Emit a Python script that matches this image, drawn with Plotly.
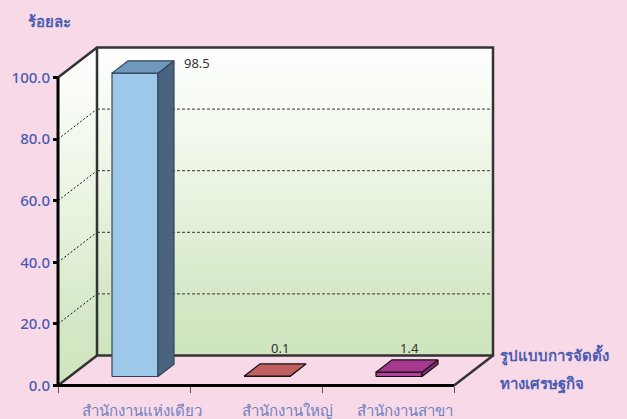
import plotly.graph_objects as go

categories = ["สำนักงานแห่งเดียว", "สำนักงานใหญ่", "สำนักงานสาขา"]
values = [98.5, 0.1, 1.4]
value_text = ["98.5", "0.1", "1.4"]
y_ticks = [0, 20, 40, 60, 80, 100]
y_tick_text = ["0.0", "20.0", "40.0", "60.0", "80.0", "100.0"]
x_ticks = [0, 1, 2, 3]
y_title = "ร้อยละ"
x_title = ["รูปแบบการจัดตั้ง", "ทางเศรษฐกิจ"]

W, H = 627, 419
X0, X1, Y0, Y1 = 58, 454, 385.5, 77.5   # pixel box of the front plane
PX = (X1 - X0) / 3
PY = (Y0 - Y1) / 100
DX, DY = 39 / PX, 30 / PY           # wall depth in data units
BW = 46 / PX                        # bar width
BDX, BDY = 16 / PX, 12.3 / PY       # bar depth
OFFX, OFFY = 11 / PX, 9 / PY        # bar placement on the floor

BG = "#F8D9E8"
BLUE = "#4A5DB0"
EDGE = "#333333"
FONT = "Noto Sans, DejaVu Sans, sans-serif"
wall_scale = [[0, "#CEE5BD"], [0.18, "#D4E7C5"], [0.5, "#E8F3DF"], [1, "#FFFFFF"]]
bar_colors = [
    ("#9DC8EA", "#7098BC", "#4A6480", "#33445A"),
    ("#C06060", "#C06060", "#8A4040", "#111111"),
    ("#B0409A", "#A5378F", "#8A2C78", "#111111"),
]

fig = go.Figure()


def poly(xs, ys, color=None, line="rgba(0,0,0,0)", lw=0, gradient=False):
    kw = {}
    if gradient:
        kw["fillgradient"] = dict(type="vertical", colorscale=wall_scale)
    else:
        kw["fillcolor"] = color
    fig.add_trace(go.Scatter(x=xs, y=ys, mode="lines", fill="toself",
                             line=dict(color=line, width=lw),
                             hoverinfo="skip", showlegend=False, **kw))


def seg(xs, ys, color=EDGE, lw=3, dash="solid"):
    fig.add_trace(go.Scatter(x=xs, y=ys, mode="lines",
                             line=dict(color=color, width=lw, dash=dash),
                             hoverinfo="skip", showlegend=False))


# walls
poly([DX, 3 + DX, 3 + DX, DX, DX], [DY, DY, 100 + DY, 100 + DY, DY], gradient=True)
poly([0, DX, DX, 0, 0], [0, DY, 100 + DY, 100, 0], gradient=True)

# gridlines
for t in y_ticks[1:-1]:
    seg([DX, 3 + DX], [t + DY, t + DY], "#333333", 1, "3px,2px")
    seg([0, DX], [t, t + DY], "#111111", 1, "2px,2px")

# wall edges
seg([0, DX, 3 + DX, 3 + DX, DX, DX], [100, 100 + DY, 100 + DY, DY, DY, 100 + DY], lw=2.5)
seg([0, DX], [0, DY], lw=2.5)
seg([3, 3 + DX], [0, DY], lw=2.5)

# bars
for i, v in enumerate(values):
    front, top, side, edge = bar_colors[i]
    xl = i + 0.5 + OFFX - BW / 2
    xr = xl + BW
    yb = OFFY
    yt = OFFY + v
    poly([xl, xr, xr, xl, xl], [yb, yb, yt, yt, yb], front, edge, 1.2)
    poly([xr, xr + BDX, xr + BDX, xr, xr], [yb, yb + BDY, yt + BDY, yt, yb], side, edge, 1.2)
    poly([xl, xr, xr + BDX, xl + BDX, xl], [yt, yt, yt + BDY, yt + BDY, yt], top, edge, 1.2)

# front axis lines
seg([0, 0], [0, 100], "#000000", 3)
seg([0, 3], [0, 0], "#000000", 3)

annotations = []
label_shift = [(62, 10), (13, 28), (10, 24)]
for i, v in enumerate(values):
    annotations.append(dict(x=i + 0.5 + OFFX, y=OFFY + v, xref="x", yref="y",
                            text=value_text[i], showarrow=False,
                            xshift=label_shift[i][0], yshift=label_shift[i][1],
                            font=dict(family=FONT, size=13, color="#333333")))
cat_shift = [18, 31, 17]
for i, c in enumerate(categories):
    annotations.append(dict(x=i + 0.5, y=0, xref="x", yref="y", text=c, showarrow=False,
                            xshift=cat_shift[i], yshift=-24,
                            font=dict(family=FONT, size=15, color="#6F82C0")))
annotations.append(dict(x=49 / W, y=1 - 21 / H, xref="paper", yref="paper",
                        xanchor="center", yanchor="middle",
                        text="<b>" + y_title + "</b>",
                        showarrow=False, font=dict(family=FONT, size=15, color=BLUE)))
for t, py in zip(x_title, [355, 383]):
    annotations.append(dict(x=498 / W, y=1 - py / H, xref="paper", yref="paper", text="<b>" + t + "</b>",
                            showarrow=False, xanchor="left", yanchor="middle",
                            font=dict(family=FONT, size=15, color=BLUE)))

fig.update_layout(
    width=W, height=H, margin=dict(l=0, r=0, t=0, b=0),
    paper_bgcolor=BG, plot_bgcolor="rgba(0,0,0,0)", showlegend=False,
    annotations=annotations,
    xaxis=dict(domain=[0, 1], range=[-X0 / PX, (W - X0) / PX], showgrid=False, zeroline=False,
               anchor="free", position=1 - Y0 / H,
               showline=False,
               tickvals=x_ticks, ticktext=["" for _ in x_ticks],
               ticks="outside", ticklen=6, tickwidth=1, tickcolor="#555555"),
    yaxis=dict(domain=[0, 1], range=[-(H - Y0) / PY, Y0 / PY], showgrid=False, zeroline=False,
               anchor="free", position=X0 / W,
               showline=False,
               tickvals=y_ticks, ticktext=y_tick_text,
               ticks="outside", ticklen=5, tickwidth=2.5, tickcolor="#000000",
               tickfont=dict(family=FONT, size=15, color=BLUE, weight=500)),
)
fig.write_html("out.html", config={"displayModeBar": False},
               post_script="document.body.style.margin='0';")
